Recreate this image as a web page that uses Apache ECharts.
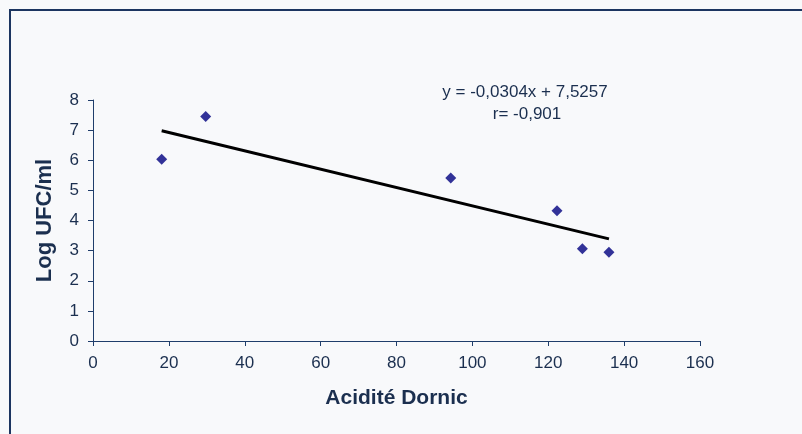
<!DOCTYPE html>
<html>
<head>
<meta charset="utf-8">
<script src="https://cdn.jsdelivr.net/npm/echarts@6/dist/echarts.min.js"></script>
<style>
  html, body { margin: 0; padding: 0; background: #f8f9fb; overflow: hidden; }
  #frame { position: absolute; left: 9px; top: 9px; width: 820px; height: 450px;
           border-left: 2px solid #1c3560; border-top: 2px solid #1c3560; }
  #mychart { position: absolute; left: 0; top: 0; width: 802px; height: 434px; }
</style>
</head>
<body>
<div id="frame"></div>
<div id="mychart"></div>
<script>
// données
const acidite = [18.1, 29.7, 94.3, 122.3, 129.0, 136.0];
const logUfc = [6.03, 7.45, 5.41, 4.32, 3.06, 2.95];
// droite de tendance (extrémités)
const trendX = [18.1, 136.0];
const trendY = [6.98, 3.39];
const equation = 'y = -0,0304x + 7,5257';
const correlation = 'r= -0,901';

const textColor = '#1b2f4f';
const axisColor = '#1f3d6b';

const chart = echarts.init(document.getElementById('mychart'), null, { renderer: 'canvas' });

const option = {
  backgroundColor: 'transparent',
  animation: false,
  grid: { left: 93, right: 102, top: 100, bottom: 93 },
  xAxis: {
    type: 'value',
    min: 0, max: 160, interval: 20,
    name: 'Acidité Dornic',
    nameLocation: 'middle',
    nameGap: 47,
    nameTextStyle: { fontFamily: 'Liberation Sans', fontSize: 21, fontWeight: 'bold', color: textColor },
    axisLine: { show: true, lineStyle: { color: axisColor, width: 1 } },
    axisTick: { show: true, length: 5, lineStyle: { color: axisColor } },
    axisLabel: { fontFamily: 'Liberation Sans', fontSize: 17, color: textColor, margin: 14 },
    splitLine: { show: false }
  },
  yAxis: {
    type: 'value',
    min: 0, max: 8, interval: 1,
    name: 'Log UFC/ml',
    nameLocation: 'middle',
    nameGap: 37,
    nameTextStyle: { fontFamily: 'Liberation Sans', fontSize: 22, fontWeight: 'bold', color: textColor },
    axisLine: { show: true, lineStyle: { color: axisColor, width: 1 } },
    axisTick: { show: true, length: 5, lineStyle: { color: axisColor } },
    axisLabel: { fontFamily: 'Liberation Sans', fontSize: 17, color: textColor, margin: 14 },
    splitLine: { show: false }
  },
  series: [
    {
      type: 'line',
      data: trendX.map((x, i) => [x, trendY[i]]),
      symbol: 'none',
      lineStyle: { color: '#000000', width: 3 },
      z: 2
    },
    {
      type: 'scatter',
      data: acidite.map((x, i) => [x, logUfc[i]]),
      symbol: 'diamond',
      symbolSize: [11, 11],
      itemStyle: { color: '#000080' },
      z: 3
    }
  ],
  graphic: [
    {
      type: 'text', x: 525, y: 92,
      style: { text: equation, font: '17px "Liberation Sans"', fill: textColor, align: 'center', verticalAlign: 'middle' }
    },
    {
      type: 'text', x: 527, y: 114,
      style: { text: correlation, font: '17px "Liberation Sans"', fill: textColor, align: 'center', verticalAlign: 'middle' }
    }
  ]
};

chart.setOption(option);
window.addEventListener('resize', () => { chart.resize(); });
</script>
</body>
</html>
